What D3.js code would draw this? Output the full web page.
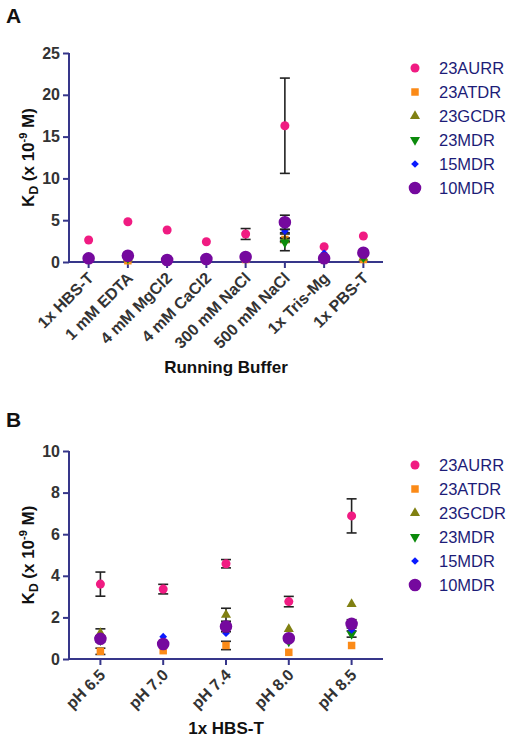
<!DOCTYPE html>
<html><head><meta charset="utf-8">
<script src="https://cdn.jsdelivr.net/npm/d3@7"></script>
<style>
body{margin:0;background:#fff;}
svg{display:block;font-family:"Liberation Sans",Arial,sans-serif;}
</style></head>
<body><svg id="c" width="512" height="742"></svg>
<script>
const seriesNames = ["23AURR","23ATDR","23GCDR","23MDR","15MDR","10MDR"];
const seriesColors = ["#f01b82","#fb8a17","#808012","#0b8a0b","#0a1aff","#75099e"];
const seriesShapes = ["circle","square","triangle","triangleDown","diamond","circleBig"];

const categoriesA = ["1x HBS-T","1 mM EDTA","4 mM MgCl2","4 mM CaCl2","300 mM NaCl","500 mM NaCl","1x Tris-Mg","1x PBS-T"];
const valuesA = [
  [2.63, 4.82, 3.83, 2.43, 3.35, 16.3, 1.83, 3.11],
  [0.30, 0.15, 0.20, 0.25, 0.30, 2.70, 0.30, 0.30],
  [0.35, 0.40, 0.20, 0.30, 0.40, 2.60, 0.40, 0.50],
  [0.35, 0.45, 0.20, 0.30, 0.45, 2.35, 0.40, 0.55],
  [0.45, 0.70, 0.25, 0.40, 0.60, 3.70, 1.04, 1.00],
  [0.44, 0.75, 0.24, 0.36, 0.60, 4.75, 0.44, 1.11]
];
const errorsA = [
  [0, 0, 0, 0, 0.65, 5.7, 0, 0],
  [0, 0, 0, 0, 0, 0.2, 0, 0],
  [0, 0, 0, 0, 0, 0.2, 0, 0],
  [0, 0, 0, 0, 0, 1.0, 0, 0],
  [0, 0, 0, 0, 0, 0.2, 0, 0],
  [0, 0, 0, 0, 0, 0.85, 0, 0]
];
const yTicksA = [0, 5, 10, 15, 20, 25];

const categoriesB = ["pH 6.5","pH 7.0","pH 7.4","pH 8.0","pH 8.5"];
const valuesB = [
  [3.60, 3.36, 4.58, 2.76, 6.88],
  [0.37, 0.40, 0.65, 0.32, 0.65],
  [1.25, 0.80, 2.12, 1.44, 2.64],
  [0.90, 0.70, 1.50, 0.85, 1.20],
  [1.00, 1.07, 1.24, 1.00, 1.40],
  [0.97, 0.72, 1.56, 1.00, 1.69]
];
const errorsB = [
  [0.58, 0.23, 0.20, 0.25, 0.82],
  [0.15, 0, 0.20, 0, 0],
  [0.20, 0, 0.32, 0, 0],
  [0, 0, 0, 0, 0.15],
  [0, 0, 0, 0, 0],
  [0.15, 0, 0.25, 0, 0.20]
];
const yTicksB = [0, 2, 4, 6, 8, 10];

const svg = d3.select("#c");
const axisColor = "#36368a";
const textColor = "#333";
const legendText = "#1c1c78";

function symbolPath(shape) {
  switch (shape) {
    case "circle": return d3.symbol(d3.symbolCircle, 64)();
    case "circleBig": return d3.symbol(d3.symbolCircle, 124)();
    case "square": return d3.symbol(d3.symbolSquare, 56)();
    case "triangle": return d3.symbol(d3.symbolTriangle, 44)();
    case "triangleDown": return d3.symbol(d3.symbolTriangle, 44)();
    case "diamond": return d3.symbol(d3.symbolSquare, 30)();
  }
}
function symbolRot(shape) {
  if (shape === "triangleDown") return " rotate(180)";
  if (shape === "diamond") return " rotate(45)";
  return "";
}

function panel(opt) {
  const g = svg.append("g");
  const x = d3.scaleBand().domain(opt.categories).range([69, 383]).padding(0);
  const y = d3.scaleLinear().domain(opt.domain).range([opt.y0, opt.y1]);

  g.append("text").attr("x", 6).attr("y", opt.letterY).text(opt.letter)
    .attr("font-size", 21).attr("font-weight", "bold").attr("fill", "#111");

  const ya = g.append("g").attr("transform", "translate(69,0)")
    .call(d3.axisLeft(y).tickValues(opt.yTicks).tickSize(6).tickPadding(3).tickFormat(d3.format("d")));
  ya.select(".domain").attr("stroke", axisColor).attr("stroke-width", 2).attr("d", `M0,${opt.y0}V${opt.y1}`);
  ya.selectAll(".tick line").attr("stroke", axisColor).attr("stroke-width", 2);
  ya.selectAll(".tick text").attr("font-size", 16).attr("font-weight", "bold").attr("fill", textColor)
    .attr("font-family", "Liberation Sans, Arial, sans-serif");

  const xa = g.append("g").attr("transform", `translate(0,${opt.y0})`)
    .call(d3.axisBottom(x).tickSize(6).tickPadding(4));
  xa.select(".domain").attr("stroke", axisColor).attr("stroke-width", 2).attr("d", "M69,0H383");
  xa.selectAll(".tick line").attr("stroke", axisColor).attr("stroke-width", 2);
  xa.selectAll(".tick text").attr("font-size", 16).attr("font-weight", "bold").attr("fill", textColor)
    .attr("font-family", "Liberation Sans, Arial, sans-serif")
    .attr("text-anchor", "end").attr("dy", null).attr("y", 0)
    .attr("transform", "translate(6,17) rotate(-45)");

  const ym = (opt.y0 + opt.y1) / 2;
  const yt = g.append("text").attr("transform", `translate(34,${ym}) rotate(-90)`)
    .attr("text-anchor", "middle").attr("font-size", 17).attr("font-weight", "bold").attr("fill", "#111");
  yt.append("tspan").text("K");
  yt.append("tspan").text("D").attr("font-size", 12).attr("dy", 4);
  yt.append("tspan").text(" (x 10").attr("dy", -4);
  yt.append("tspan").text("-9").attr("font-size", 11).attr("dy", -7);
  yt.append("tspan").text(" M)").attr("dy", 7);

  g.append("text").attr("x", 226).attr("y", opt.xTitleY).attr("text-anchor", "middle")
    .attr("font-size", 17).attr("font-weight", "bold").attr("fill", "#111").text(opt.xTitle);

  seriesNames.forEach((name, s) => {
    const sg = g.append("g");
    opt.values[s].forEach((v, i) => {
      const e = opt.errors[s][i];
      const cx = x(opt.categories[i]) + x.bandwidth() / 2;
      if (e > 0) {
        const eg = sg.append("g").attr("stroke", "#222").attr("stroke-width", 1.6);
        eg.append("line").attr("x1", cx).attr("x2", cx).attr("y1", y(v - e)).attr("y2", y(v + e));
        eg.append("line").attr("x1", cx - 5).attr("x2", cx + 5).attr("y1", y(v - e)).attr("y2", y(v - e));
        eg.append("line").attr("x1", cx - 5).attr("x2", cx + 5).attr("y1", y(v + e)).attr("y2", y(v + e));
      }
    });
    opt.values[s].forEach((v, i) => {
      const cx = x(opt.categories[i]) + x.bandwidth() / 2;
      sg.append("path").attr("d", symbolPath(seriesShapes[s]))
        .attr("transform", `translate(${cx},${y(v)})${symbolRot(seriesShapes[s])}`)
        .attr("fill", seriesColors[s]);
    });
  });

  const lg = g.append("g");
  seriesNames.forEach((name, s) => {
    const ly = opt.legendY + s * 24;
    lg.append("path").attr("d", symbolPath(seriesShapes[s]))
      .attr("transform", `translate(415,${ly})${symbolRot(seriesShapes[s])}`).attr("fill", seriesColors[s]);
    lg.append("text").attr("x", 439).attr("y", ly + 6).attr("font-size", 16.5)
      .attr("fill", legendText).text(name);
  });
}

panel({letter: "A", letterY: 23, categories: categoriesA, values: valuesA, errors: errorsA,
  domain: [0, 25], y0: 262, y1: 53, yTicks: yTicksA, xTitle: "Running Buffer", xTitleY: 373, legendY: 68});
panel({letter: "B", letterY: 427, categories: categoriesB, values: valuesB, errors: errorsB,
  domain: [0, 10], y0: 659, y1: 451, yTicks: yTicksB, xTitle: "1x HBS-T", xTitleY: 734, legendY: 465});
</script>
</body></html>
